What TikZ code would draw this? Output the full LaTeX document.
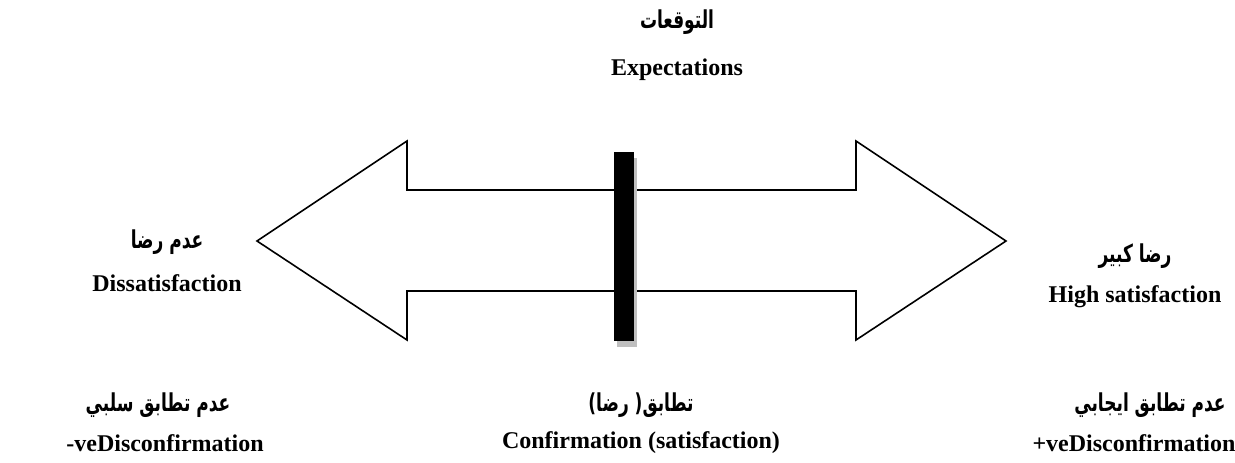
\documentclass[tikz,border=0pt]{standalone}
\usepackage{fontspec}
\setmainfont{Liberation Serif}
\newfontfamily\arabicfont[Script=Arabic]{DejaVu Sans}
\TeXXeTstate=1
\newcommand{\artext}[1]{\scalebox{1}[1.45]{\beginR #1\endR}}
\begin{document}
\begin{tikzpicture}[x=1pt,y=-1pt,
  en/.style={font=\fontsize{24}{26}\selectfont\bfseries, inner sep=0pt, anchor=center},
  ar/.style={font=\arabicfont\fontsize{17}{20}\selectfont\bfseries, inner sep=0pt, anchor=center},
  outline/.style={draw=black, line width=1.6pt, line join=miter, fill=white}]
\useasboundingbox (0,0) rectangle (1235,463);
% double arrow
\draw[outline] (257,241) -- (407,141) -- (407,190) -- (856,190) -- (856,141) -- (1006,241)
  -- (856,340) -- (856,291) -- (407,291) -- (407,340) -- cycle;
% bar with shadow
\fill[black!25] (617,158) rectangle (637,347);
\fill[black] (614,152) rectangle (634,341);
% texts
\node[ar] (expar) at (677,22) {\artext{التوقعات}};
\node[en] (expen) at (677,70) {Expectations};
\node[ar] (disar) at (167,242) {\artext{عدم رضا}};
\node[en] (disen) at (167,283) {Dissatisfaction};
\node[ar] (highar) at (1135,256) {\artext{رضا كبير}};
\node[en] (highen) at (1135,297) {High satisfaction};
\node[ar] (negar) at (158,405) {\artext{عدم تطابق سلبي}};
\node[en] (negen) at (165,443) {-veDisconfirmation};
\node[ar] (confar) at (641,405) {\artext{تطابق( رضا)}};
\node[en] (confen) at (641,443) {Confirmation (satisfaction)};
\node[ar] (posar) at (1150,405) {\artext{عدم تطابق ايجابي}};
\node[en] (posen) at (1134,443) {+veDisconfirmation};
\end{tikzpicture}
\end{document}
